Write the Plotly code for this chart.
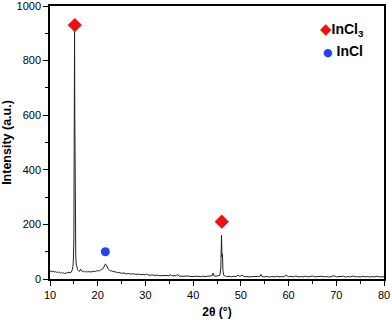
import plotly.graph_objects as go

two_theta = [10.0, 10.2, 10.4, 10.6, 10.8, 11.0, 11.2, 11.4, 11.6, 11.8, 12.0, 12.2, 12.4, 12.6, 12.8,
             13.0, 13.2, 13.4, 13.6, 13.8, 14.0, 14.2, 14.4, 14.6, 14.8, 14.9, 15.0, 15.1, 15.15, 15.2,
             15.25, 15.3, 15.35, 15.4, 15.5, 15.6, 15.8, 16.0, 16.2, 16.4, 16.6, 16.8, 17.0, 17.2, 17.4,
             17.6, 17.8, 18.0, 18.2, 18.4, 18.6, 18.8, 19.0, 19.2, 19.4, 19.6, 19.8, 20.0, 20.2, 20.4,
             20.6, 20.8, 21.0, 21.2, 21.4, 21.6, 21.8, 22.0, 22.2, 22.4, 22.6, 22.8, 23.0, 23.2, 23.4,
             23.6, 23.8, 24.0, 24.2, 24.4, 24.6, 24.8, 25.0, 25.5, 26.0, 26.5, 27.0, 27.5, 28.0, 28.5,
             29.0, 29.5, 30.0, 30.2, 30.5, 31.0, 31.5, 32.0, 32.5, 33.0, 33.5, 34.0, 34.5, 35.0, 35.2,
             35.5, 36.0, 36.5, 36.7, 37.0, 37.5, 38.0, 38.5, 39.0, 39.5, 40.0, 40.5, 41.0, 41.5, 42.0,
             42.5, 43.0, 43.5, 44.0, 44.2, 44.4, 44.8, 45.2, 45.6, 45.8, 45.95, 46.05, 46.15, 46.25, 46.4,
             46.8, 47.0, 47.5, 48.0, 48.5, 49.0, 49.4, 49.7, 50.0, 50.3, 50.6, 51.0, 51.5, 52.0, 52.5,
             53.0, 53.5, 54.0, 54.2, 54.4, 54.8, 55.5, 56.0, 56.5, 57.0, 57.5, 58.0, 58.5, 59.0, 59.5,
             59.8, 60.0, 60.5, 61.0, 61.5, 62.0, 62.5, 63.0, 63.5, 64.0, 64.5, 65.0, 65.5, 66.0, 66.5,
             67.0, 67.5, 68.0, 68.5, 69.0, 69.5, 70.0, 70.5, 71.0, 71.5, 72.0, 72.5, 73.0, 73.5, 74.0,
             74.5, 75.0, 75.5, 76.0, 76.5, 77.0, 77.5, 78.0, 78.5, 79.0, 79.5, 80.0]

intensity = [30, 27, 29, 26, 28, 25, 27, 24, 26, 23, 25, 22, 24, 21, 23,
             20, 22, 21, 23, 22, 26, 22, 24, 30, 45, 70, 140, 420, 907, 600,
             340, 250, 120, 80, 55, 42, 34, 30, 28, 36, 30, 27, 29, 26, 28,
             25, 27, 26, 28, 25, 27, 26, 28, 27, 29, 28, 30, 29, 31, 30,
             33, 34, 36, 40, 47, 55, 52, 42, 36, 33, 30, 31, 28, 29, 26,
             27, 25, 26, 23, 24, 22, 23, 21, 22, 19, 20, 18, 19, 17, 18,
             16, 17, 15, 19, 15, 14, 15, 13, 14, 12, 13, 12, 13, 11, 17,
             12, 11, 12, 17, 11, 10, 11, 10, 11, 9, 10, 9, 10, 8, 10,
             9, 10, 9, 12, 22, 11, 10, 11, 14, 40, 161, 80, 92, 30, 14,
             10, 9, 10, 8, 10, 9, 14, 10, 11, 15, 9, 8, 9, 8, 9,
             8, 9, 10, 17, 9, 8, 9, 7, 9, 8, 10, 8, 9, 8, 14,
             9, 8, 10, 8, 11, 8, 9, 8, 10, 8, 9, 11, 8, 9, 8,
             10, 8, 9, 7, 10, 12, 8, 9, 8, 10, 7, 9, 8, 11, 8,
             9, 7, 10, 8, 9, 7, 9, 8, 10, 8, 9, 8]

incl3_x = [15.2, 46.0]
incl3_y = [930, 210]
incl_x = [21.6]
incl_y = [100]

x_ticks = [10, 20, 30, 40, 50, 60, 70, 80]
y_ticks = [0, 200, 400, 600, 800, 1000]

RED = "#ee1111"
BLUE = "#2244ee"
font_family = "Liberation Sans, Arial, sans-serif"

legend_labels = [
    "<span style='font-family:DejaVu Sans;font-size:15px;color:%s'>◆</span><b>InCl<sub>3</sub></b>" % RED,
    "<span style='font-family:DejaVu Sans;font-size:11px;color:%s'>●</span> <b>InCl</b>" % BLUE,
]

fig = go.Figure()
fig.add_trace(go.Scatter(x=two_theta, y=intensity, mode="lines",
                         line=dict(color="#222222", width=1), showlegend=False))
fig.add_trace(go.Scatter(x=incl3_x, y=incl3_y, mode="markers", name="InCl3", showlegend=False,
                         marker=dict(symbol="diamond", size=11, color=RED)))
fig.add_trace(go.Scatter(x=incl_x, y=incl_y, mode="markers", name="InCl", showlegend=False,
                         marker=dict(symbol="circle", size=9, color=BLUE)))

axis_common = dict(showline=True, linecolor="black", linewidth=1.5, mirror=True,
                   showgrid=False, zeroline=False, ticks="outside", ticklen=5,
                   tickwidth=1.2, tickcolor="black", automargin=False,
                   ticklabeloverflow="allow",
                   tickfont=dict(family=font_family, size=11, color="black"))

fig.update_xaxes(range=[10, 80], tickvals=x_ticks,
                 minor=dict(dtick=5, tick0=5, ticks="outside", ticklen=3, tickcolor="black"),
                 title=dict(text="<b>2θ (°)</b>", font=dict(family=font_family, size=12, color="black"),
                            standoff=10),
                 **axis_common)
fig.update_yaxes(range=[0, 1000], tickvals=y_ticks,
                 minor=dict(dtick=100, tick0=0, ticks="outside", ticklen=3, tickcolor="black"),
                 title=dict(text="<b>Intensity (a.u.)</b>", font=dict(family=font_family, size=12.5, color="black"),
                            standoff=8),
                 **axis_common)

plot_h = 319 - 6 - 40
plot_w = 392 - 50 - 8
def px_x(p):
    return (p - 50) / plot_w
def px_y(p):
    return (279 - p) / plot_h

rows_y = [29, 51.5]
rows_x = [318, 321]
annotations = []
for lab, gy, gx in zip(legend_labels, rows_y, rows_x):
    annotations.append(dict(xref="paper", yref="paper", x=px_x(gx), y=px_y(gy), text=lab,
                            showarrow=False, xanchor="left", yanchor="middle",
                            font=dict(family=font_family, size=14, color="black")))

fig.update_layout(
    width=392, height=319,
    margin=dict(l=50, r=8, t=6, b=40),
    plot_bgcolor="white", paper_bgcolor="white",
    showlegend=False,
    annotations=annotations,
)

fig.write_html("out.html", config={"displayModeBar": False},
               post_script="document.body.style.margin='0';document.body.style.padding='0';")
